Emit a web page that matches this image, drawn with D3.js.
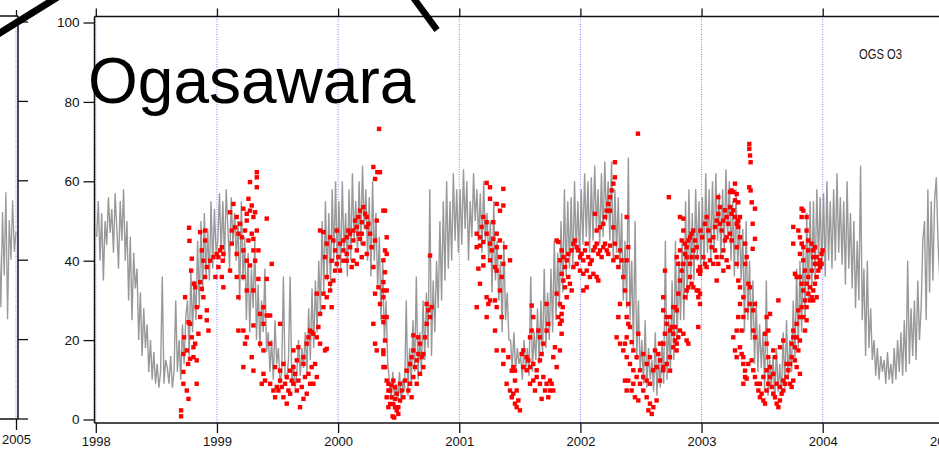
<!DOCTYPE html>
<html><head><meta charset="utf-8">
<script src="https://cdn.jsdelivr.net/npm/d3@7"></script>
<style>
html,body{margin:0;padding:0;background:#fff;overflow:hidden}
svg{display:block}
</style></head><body>
<svg id="chart" width="939" height="450"></svg>
<script>
// ---- data -------------------------------------------------------------
const years = [1998, 1999, 2000, 2001, 2002, 2003, 2004, 2005];
const o3Ticks = [0, 20, 40, 60, 80, 100];
const stepsPerYear = 72; // model output: one value every ~5 days

// Modelled surface O3 (ppbv), Ogasawara
const model1998 = [46,55,40,52,35,50, 44,56,47,53,42,57, 48,38,55,45,58,40, 50,30,46,25,42,33,
  38,20,32,16,28,18, 24,12,20,10,17,9, 14,8,12,36,9,15, 13,9,16,8,12,30,
  12,20,10,24,14,26, 30,16,38,22,35,25, 45,28,50,32,52,36, 48,35,55,38,53,42];
const model1999 = [45,57,42,55,40,58, 48,38,56,44,52,40, 50,30,55,35,46,25, 42,22,38,28,45,20,
  34,18,30,22,38,17, 22,12,20,10,25,14, 18,9,12,36,11,10, 15,36,9,14,8,12,
  20,11,18,13,22,12, 28,15,33,18,35,22, 40,27,50,32,55,35, 52,33,58,40,60,38];
const model2000 = [55,38,60,42,52,36, 58,40,62,45,55,42, 60,44,64,48,58,40, 56,36,60,40,52,33,
  46,25,40,20,30,14, 10,5,12,6,9,5, 12,4,10,7,30,6, 18,9,25,12,36,10,
  22,12,30,15,32,18, 58,16,35,22,40,28, 50,30,55,35,60,38, 55,40,62,45,58,42];
const model2001 = [58,44,63,48,60,40, 55,46,62,50,58,45, 57,42,60,45,52,40, 50,32,55,35,45,30,
  40,22,45,25,32,20, 20,13,22,12,18,14, 16,10,20,12,18,11, 36,12,22,15,28,14,
  30,16,38,18,32,20, 38,22,45,25,42,28, 50,32,58,36,55,38, 56,38,60,42,55,40];
const model2002 = [58,44,62,46,60,42, 61,45,64,48,58,44, 62,46,65,50,60,45, 65,40,58,42,56,38,
  52,30,45,28,66,25, 40,18,50,15,30,12, 20,9,25,8,18,10, 15,7,22,6,16,8,
  20,9,45,10,25,12, 35,15,45,20,40,25, 45,25,55,30,58,35, 52,35,58,40,55,38];
const model2003 = [56,38,62,42,58,40, 60,42,62,45,57,41, 58,43,63,46,60,40, 55,36,58,38,50,35,
  48,22,50,25,40,20, 35,14,30,12,24,13, 22,7,35,6,15,8, 16,5,18,7,14,6,
  22,8,25,10,20,12, 30,15,38,18,40,22, 45,25,52,30,55,33, 55,35,58,40,56,38];
const model2004 = [57,36,60,40,55,38, 58,40,62,42,56,39, 55,34,60,38,52,33, 50,28,45,30,64,25,
  38,16,40,18,28,15, 20,11,18,10,16,12, 15,9,17,10,14,9, 18,10,20,12,22,11,
  25,12,40,14,28,16, 30,15,35,20,28,45, 50,25,58,32,55,35, 55,61,45,36,50,40];
const modelByYear = [[1998, model1998], [1999, model1999], [2000, model2000], [2001, model2001],
  [2002, model2002], [2003, model2003], [2004, model2004]];

// neighbouring panel (end of its record)
const prevSiteStart = 2004.861;
const prevSiteO3 = [45,28,52,36,57,25,50,40,55,42,47];

// Observed O3 (ppbv): [decimal year, value]
const obs1998 = [[1998.704,2.3],[1998.704,0.8],[1998.723,16.5],[1998.729,20.7],[1998.737,30.8],[1998.723,12.0],[1998.723,9.0],[1998.751,7.3],[1998.765,5.2],[1998.751,17.4],[1998.762,14.0],[1998.770,48.3],[1998.773,45.0],[1998.787,37.5],[1998.792,40.5],[1998.778,24.1],[1998.765,24.5],[1998.792,20.7],[1998.806,18.2],[1998.806,15.7],[1998.778,15.3],[1998.811,34.2],[1998.820,33.3],[1998.833,28.3],[1998.847,21.6],[1998.833,14.9],[1998.833,9.0],[1998.820,19.1],[1998.861,47.2],[1998.861,34.6],[1998.861,25.8],[1998.875,42.6],[1998.875,32.9],[1998.888,40.0],[1998.902,47.6],[1998.902,45.1],[1998.902,35.9],[1998.888,30.8],[1998.916,38.4],[1998.916,27.5],[1998.916,25.0],[1998.930,22.4],[1998.943,40.0],[1998.971,40.9],[1998.987,35.9],[1998.998,41.7]];
const obs1999 = [[1999.012,40.9],[1999.012,38.4],[1999.026,42.6],[1999.040,43.4],[1999.048,40.0],[1999.040,35.9],[1999.053,33.3],[1999.053,41.7],[1999.108,52.2],[1999.136,54.3],[1999.163,51.0],[1999.191,49.3],[1999.218,53.1],[1999.246,51.8],[1999.246,50.1],[1999.273,52.6],[1999.122,47.6],[1999.150,48.4],[1999.177,46.8],[1999.205,45.9],[1999.232,47.6],[1999.260,45.1],[1999.287,46.8],[1999.301,45.5],[1999.122,44.3],[1999.163,41.7],[1999.218,42.6],[1999.246,40.0],[1999.273,38.8],[1999.301,42.6],[1999.315,40.0],[1999.273,59.8],[1999.329,62.3],[1999.329,61.0],[1999.329,58.5],[1999.260,55.6],[1999.287,53.9],[1999.315,52.2],[1999.301,51.0],[1999.329,47.6],[1999.342,42.6],[1999.411,50.6],[1999.452,39.2],[1999.411,35.4],[1999.342,35.4],[1999.108,37.5],[1999.163,35.9],[1999.218,35.9],[1999.246,32.5],[1999.177,30.8],[1999.301,32.5],[1999.384,28.3],[1999.356,26.6],[1999.439,26.2],[1999.411,26.2],[1999.384,24.1],[1999.177,22.4],[1999.218,22.4],[1999.301,23.7],[1999.246,20.7],[1999.232,19.1],[1999.287,15.7],[1999.218,13.2],[1999.301,12.3],[1999.356,19.1],[1999.384,17.4],[1999.439,19.1],
  [1999.439,9.0],[1999.466,7.3],[1999.480,5.6],[1999.494,8.2],[1999.521,9.8],[1999.549,5.6],[1999.576,4.0],[1999.604,6.5],[1999.631,9.0],[1999.659,7.3],[1999.686,3.1],[1999.714,5.2],[1999.741,6.5],[1999.769,9.0],[1999.796,9.0],[1999.824,10.7],[1999.576,10.7],[1999.604,12.3],[1999.631,13.2],[1999.521,12.3],[1999.480,13.2],[1999.384,11.5],[1999.397,9.8],[1999.370,9.0],[1999.507,7.3],[1999.535,8.2],[1999.562,9.0],[1999.590,7.3],[1999.617,9.8],[1999.645,11.5],[1999.672,9.8],[1999.700,8.2],[1999.727,10.7],[1999.755,11.5],[1999.782,13.2],[1999.810,14.0],[1999.549,14.0],[1999.659,14.9],[1999.714,14.0],[1999.521,24.1],[1999.631,17.4],[1999.672,18.2],[1999.714,15.7],[1999.741,19.1],[1999.755,20.7],[1999.769,22.4],[1999.782,22.0],[1999.824,20.7],[1999.851,19.1],[1999.892,17.4],[1999.906,17.8],
  [1999.796,21.6],[1999.837,23.3],[1999.879,28.3],[1999.879,31.7],[1999.824,31.7],[1999.851,26.6],[1999.906,30.8],[1999.906,35.9],[1999.934,34.2],[1999.934,32.5],[1999.947,28.3],[1999.961,35.0],[1999.975,37.5],[1999.989,39.2],[1999.851,47.6],[1999.879,47.2],[1999.934,45.9],[1999.961,45.1],[1999.989,47.6],[1999.975,42.6],[1999.906,44.3],[1999.892,40.9],[1999.947,40.0]];
const obs2000 = [[2000.016,44.3],[2000.002,40.9],[2000.044,42.6],[2000.071,41.7],[2000.099,43.4],[2000.044,40.0],[2000.016,37.5],[2000.126,40.0],[2000.154,42.6],[2000.209,53.5],[2000.181,52.6],[2000.223,51.8],[2000.236,51.0],[2000.195,49.7],[2000.236,48.5],[2000.250,49.3],[2000.154,48.5],[2000.168,46.8],[2000.181,45.5],[2000.126,45.1],[2000.099,46.8],[2000.071,45.9],[2000.291,63.6],[2000.305,60.6],[2000.324,62.3],[2000.374,52.6],[2000.319,50.1],[2000.305,45.1],[2000.291,38.4],[2000.305,31.7],[2000.333,33.3],[2000.346,29.1],[2000.291,24.1],[2000.305,19.1],[2000.319,17.4],[2000.374,25.8],[2000.374,32.5],[2000.374,16.5],[2000.388,13.2],[2000.401,25.8],[2000.415,7.3],[2000.415,9.0],[2000.044,45.1],[2000.085,47.6],[2000.126,47.6],[2000.140,50.1],[2000.168,51.0],[2000.195,46.8],[2000.209,44.3],[2000.264,46.8],[2000.277,43.4],[2000.071,40.0],[2000.112,38.4],[2000.154,39.2],[2000.195,40.9],[2000.236,41.7],[2000.338,73.2],
  [2000.346,62.3],[2000.387,52.6],[2000.401,45.9],[2000.387,42.6],[2000.374,40.1],[2000.401,41.7],[2000.387,37.1],[2000.374,34.6],[2000.401,32.5],[2000.374,30.8],[2000.374,24.5],[2000.387,19.9],[2000.374,17.4],[2000.374,13.2],[2000.401,9.8],
  [2000.429,7.3],[2000.442,5.6],[2000.456,3.9],[2000.470,8.1],[2000.484,6.5],[2000.497,3.1],[2000.511,4.8],[2000.525,7.3],[2000.456,9.8],[2000.429,3.9],[2000.484,2.3],[2000.401,5.6],[2000.470,5.2],[2000.442,8.6],[2000.511,9.0],[2000.539,5.6],[2000.497,1.4],[2000.470,3.1],[2000.415,3.1],[2000.450,0.8],[2000.463,0.5],
  [2000.594,14.0],[2000.607,15.7],[2000.621,17.4],[2000.635,13.2],[2000.649,14.9],[2000.662,16.5],[2000.676,11.5],[2000.690,15.7],[2000.704,13.2],[2000.621,10.7],[2000.649,9.0],[2000.594,9.0],[2000.580,7.3],[2000.607,5.6],[2000.621,21.2],[2000.676,19.1],[2000.704,16.5],[2000.731,24.1],[2000.745,27.5],[2000.759,25.8],[2000.759,41.3],[2000.731,29.1],[2000.772,28.3],[2000.566,12.3],[2000.552,9.8],[2000.717,20.7],[2000.662,20.7]];
const obs2001 = [[2001.226,59.6],[2001.254,58.5],[2001.364,58.1],[2001.254,55.6],[2001.309,54.3],[2001.336,52.6],[2001.364,53.9],[2001.199,51.0],[2001.226,49.7],[2001.281,49.7],[2001.144,46.8],[2001.171,45.9],[2001.199,44.7],[2001.226,46.8],[2001.254,44.3],[2001.281,45.5],[2001.309,46.8],[2001.336,45.1],[2001.309,43.4],[2001.268,42.6],[2001.171,43.8],[2001.199,40.9],[2001.254,40.1],[2001.295,38.4],[2001.309,37.5],[2001.336,40.9],[2001.364,39.2],[2001.350,35.9],[2001.378,43.4],[2001.199,38.8],[2001.158,38.0],[2001.171,34.2],[2001.226,30.8],[2001.254,30.0],[2001.295,30.0],[2001.309,28.3],[2001.240,29.1],[2001.144,28.3],[2001.226,25.8],[2001.295,22.4],[2001.309,17.4],[2001.336,32.5],[2001.350,25.8],[2001.419,40.1],[2001.144,43.4],[2001.185,48.5],
  [2001.364,17.4],[2001.364,14.0],[2001.391,9.0],[2001.419,7.3],[2001.433,5.6],[2001.446,6.5],[2001.460,4.0],[2001.474,3.1],[2001.488,4.8],[2001.501,2.3],[2001.474,7.3],[2001.433,12.3],[2001.446,13.2],[2001.460,9.8],[2001.460,12.3],[2001.405,15.7],
  [2001.529,17.4],[2001.556,15.7],[2001.584,13.2],[2001.611,14.0],[2001.639,12.4],[2001.666,14.9],[2001.694,10.7],[2001.721,9.0],[2001.749,9.8],[2001.776,7.3],[2001.735,5.6],[2001.708,7.3],[2001.666,9.0],[2001.639,10.7],[2001.611,9.8],[2001.584,9.0],[2001.570,14.9],[2001.556,12.4],[2001.529,13.2],[2001.515,16.5],[2001.598,22.4],[2001.584,20.7],[2001.611,25.8],[2001.653,22.4],[2001.666,20.7],[2001.694,19.1],[2001.721,22.4],[2001.735,24.1],[2001.721,29.1],[2001.680,16.5],[2001.776,15.7],[2001.790,18.2],[2001.804,13.2],[2001.831,17.4],[2001.845,21.6],[2001.845,24.9],[2001.854,28.3],[2001.625,7.3],[2001.680,5.2],[2001.749,7.3],[2001.763,9.0],[2001.598,28.7],[2001.831,24.1],[2001.818,25.8],[2001.845,26.6],[2001.831,29.1],[2001.804,31.7],
  [2001.818,44.7],[2001.845,42.6],[2001.831,40.1],[2001.859,40.9],[2001.873,38.4],[2001.887,40.1],[2001.900,41.7],[2001.928,42.6],[2001.942,44.3],[2001.955,45.1],[2001.969,43.4],[2001.983,42.6],[2001.997,40.9],[2001.859,35.0],[2001.873,33.3],[2001.900,35.9],[2001.914,34.2],[2001.928,32.5],[2001.887,30.8],[2001.845,36.7],[2001.942,38.4],[2001.969,39.2],[2001.997,37.5],[2001.804,45.1]];
const obs2002 = [[2002.010,41.7],[2002.024,40.1],[2002.038,42.6],[2002.052,44.3],[2002.065,40.9],[2002.079,39.2],[2002.093,40.1],[2002.107,42.6],[2002.120,43.4],[2002.134,44.3],[2002.148,41.7],[2002.162,42.6],[2002.175,40.9],[2002.189,43.4],[2002.203,44.3],[2002.217,42.6],[2002.230,41.7],[2002.244,43.8],[2002.272,40.1],[2002.024,36.7],[2002.052,37.5],[2002.079,35.9],[2002.107,36.7],[2002.134,35.9],[2002.148,35.0],[2002.052,33.3],[2002.024,32.5],[2002.120,51.8],[2002.134,47.6],[2002.162,48.4],[2002.189,49.3],[2002.203,51.0],[2002.217,52.6],[2002.230,54.3],[2002.244,56.0],[2002.258,57.7],[2002.272,59.4],[2002.285,61.0],[2002.285,64.8],
  [2002.244,52.6],[2002.272,48.4],[2002.285,44.3],[2002.299,40.9],[2002.313,38.4],[2002.327,42.6],[2002.340,40.1],[2002.354,35.9],[2002.382,51.0],[2002.395,43.4],[2002.382,40.1],[2002.368,32.5],[2002.395,29.1],[2002.382,25.8],[2002.395,24.1],[2002.409,23.3],[2002.327,29.1],[2002.313,25.8],[2002.299,20.7],[2002.368,19.1],[2002.382,20.7],[2002.423,19.5],[2002.475,72.0],[2002.327,19.1],
  [2002.354,17.4],[2002.382,15.7],[2002.409,14.0],[2002.437,12.4],[2002.464,10.7],[2002.492,9.0],[2002.519,7.3],[2002.547,5.6],[2002.574,4.0],[2002.602,3.1],[2002.629,4.8],[2002.519,10.7],[2002.547,9.8],[2002.574,9.0],[2002.492,12.4],[2002.464,15.7],[2002.437,17.4],[2002.478,21.6],[2002.519,16.5],[2002.547,14.0],[2002.574,15.7],[2002.602,12.4],[2002.629,13.2],[2002.657,9.8],[2002.684,12.4],[2002.712,14.0],[2002.739,15.7],[2002.767,18.2],[2002.794,17.4],[2002.808,20.7],[2002.781,23.3],[2002.767,28.3],[2002.739,25.8],[2002.712,24.1],[2002.684,27.5],[2002.684,30.8],[2002.698,37.5],[2002.657,19.1],[2002.643,16.5],[2002.616,17.4],[2002.395,9.8],[2002.423,7.3],[2002.450,5.6],[2002.478,4.8],[2002.437,9.0],[2002.368,9.8],[2002.382,7.3],[2002.589,1.4],[2002.561,2.3],[2002.730,56.0],
  [2002.657,14.9],[2002.685,13.2],[2002.740,12.3],[2002.685,19.1],[2002.698,21.6],[2002.712,25.8],[2002.740,22.4],[2002.767,21.6],[2002.781,19.9],[2002.795,19.1],[2002.822,22.4],[2002.850,21.6],[2002.877,19.9],[2002.891,19.1],[2002.781,28.3],[2002.795,27.5],[2002.808,31.7],[2002.822,35.0],[2002.836,37.5],[2002.850,39.2],[2002.863,41.7],[2002.877,40.9],[2002.795,40.9],[2002.808,39.2],[2002.822,42.6],[2002.850,47.6],[2002.863,44.3],[2002.836,45.1],[2002.877,43.4],[2002.891,45.1],[2002.905,45.9],[2002.918,46.8],[2002.932,47.6],[2002.946,45.1],[2002.960,43.4],[2002.932,42.6],[2002.918,40.9],[2002.905,39.2],[2002.960,40.9],[2002.973,37.5],[2002.987,38.4],[2002.905,35.9],[2002.918,34.2],[2002.932,33.3],[2002.960,32.5],[2002.973,30.8],[2002.891,33.3],[2002.877,32.5],[2002.863,30.8],[2002.753,23.3],[2002.850,50.6],[2002.822,51.0],[2002.991,47.6],[2002.973,32.5],[2002.987,31.7],[2002.987,29.1],[2002.973,23.3],[2002.987,36.7],[2002.991,37.5]];
const obs2003 = [[2003.005,45.9],[2003.028,49.3],[2003.042,51.0],[2003.056,47.6],[2003.070,45.1],[2003.083,43.4],[2003.097,45.9],[2003.111,48.5],[2003.125,50.1],[2003.138,51.8],[2003.152,49.3],[2003.166,47.6],[2003.180,50.1],[2003.193,52.7],[2003.207,51.0],[2003.221,49.3],[2003.235,53.5],[2003.248,51.8],[2003.262,52.7],[2003.276,51.0],[2003.290,49.3],[2003.303,50.1],[2003.111,42.6],[2003.125,40.9],[2003.097,39.2],[2003.138,39.2],[2003.166,40.9],[2003.180,42.6],[2003.193,45.1],[2003.207,45.9],[2003.235,46.8],[2003.248,45.1],[2003.015,40.9],[2003.042,38.4],[2003.028,39.2],[2003.070,40.1],[2003.138,56.0],[2003.152,53.5],[2003.235,57.3],[2003.248,57.7],[2003.276,59.4],[2003.290,56.8],[2003.276,55.2],[2003.303,54.7],[2003.262,57.3],[2003.125,35.0],[2003.207,40.1],[2003.221,38.4],[2003.180,37.5],
  [2003.317,51.0],[2003.303,48.5],[2003.317,45.9],[2003.290,43.4],[2003.290,39.2],[2003.303,35.0],[2003.317,33.3],[2003.317,29.1],[2003.303,25.8],[2003.290,22.4],[2003.262,20.7],[2003.276,17.4],[2003.290,15.7],[2003.317,18.2],[2003.331,16.5],[2003.345,15.7],[2003.359,12.3],[2003.345,14.0],[2003.331,22.4],[2003.345,25.8],[2003.345,30.8],[2003.359,39.2],[2003.372,40.9],[2003.359,44.3],[2003.386,34.2],[2003.400,33.3],[2003.400,29.1],[2003.372,27.5],[2003.427,27.5],[2003.441,29.1],[2003.427,22.4],[2003.441,20.7],
  [2003.394,69.4],[2003.394,68.2],[2003.400,66.5],[2003.405,64.8],[2003.394,58.5],[2003.405,57.7],[2003.414,54.7],[2003.441,53.1],[2003.422,49.3],[2003.441,45.5],[2003.422,43.0],
  [2003.359,10.7],[2003.372,10.3],[2003.345,9.0],[2003.386,14.0],[2003.414,14.9],[2003.427,12.4],[2003.441,10.7],[2003.455,9.0],[2003.469,7.3],[2003.482,5.6],[2003.496,6.5],[2003.510,4.8],[2003.524,4.0],[2003.537,7.3],[2003.551,9.0],[2003.565,10.7],[2003.579,8.2],[2003.592,6.5],[2003.606,5.6],[2003.620,4.0],[2003.634,3.1],[2003.647,4.8],[2003.661,6.5],[2003.675,7.3],[2003.689,9.0],[2003.702,10.7],[2003.716,12.4],[2003.730,14.0],[2003.744,15.7],[2003.482,9.0],[2003.510,10.7],[2003.537,12.4],[2003.565,13.2],[2003.592,11.5],[2003.620,9.0],[2003.647,8.2],[2003.675,9.8],[2003.730,9.0],[2003.744,8.2],[2003.757,9.8],[2003.537,25.8],[2003.551,22.4],[2003.537,19.1],[2003.565,26.6],[2003.524,21.6],[2003.551,15.7],[2003.606,15.7],[2003.634,30.0],[2003.675,19.9],[2003.647,18.2],[2003.592,17.4],[2003.702,14.0],[2003.744,19.1],[2003.757,20.7],[2003.771,18.2],
  [2003.757,22.4],[2003.785,20.7],[2003.812,19.9],[2003.799,17.4],[2003.771,14.9],[2003.785,13.2],[2003.812,11.5],[2003.785,24.1],[2003.757,48.5],[2003.757,44.3],[2003.771,36.7],[2003.785,35.9],[2003.799,47.6],[2003.812,45.9],[2003.826,44.3],[2003.812,41.7],[2003.840,43.4],[2003.840,40.1],[2003.854,37.5],[2003.867,47.6],[2003.881,45.1],[2003.867,51.0],[2003.826,51.0],[2003.826,53.1],[2003.840,52.6],[2003.812,35.9],[2003.826,34.2],[2003.840,32.5],[2003.867,34.2],[2003.854,30.0],[2003.826,28.3],[2003.812,25.8],[2003.799,27.5],[2003.840,25.8],[2003.867,25.0],[2003.854,22.4],[2003.867,28.3],[2003.881,31.7],[2003.895,33.3],[2003.909,37.5],[2003.922,40.9],[2003.922,42.6],[2003.936,43.4],[2003.950,40.9],[2003.964,39.2],[2003.977,40.1],[2003.991,41.7],[2003.999,42.6],[2003.964,37.5],[2003.950,35.9],[2003.936,34.2],[2003.922,32.5],[2003.909,30.8],[2003.895,30.0],[2003.922,30.0],[2003.950,30.8],[2003.936,39.2],[2003.977,38.4],[2003.991,39.2],[2003.881,35.9],[2003.909,44.3],[2003.881,42.6]];

const siteTitle = "Ogasawara";
const panelTag = "OGS O3";

// ---- drawing ----------------------------------------------------------
const svg = d3.select("#chart");
const FONT = "'Liberation Sans', Arial, Helvetica, sans-serif";
const frame = {left: 94.5, top: 16.5, bottom: 423, right: 939};

const x = d3.scaleLinear().domain([1998, 2005]).range([95.8, 95.8 + 7 * 121.15]);
const y = d3.scaleLinear().domain([0, 100]).range([419.5, 22.5]);

// neighbouring panel, only its right edge is in view
const xPrev = d3.scaleLinear().domain([2004, 2005]).range([16 - 121.15, 16]);
const yPrev = d3.scaleLinear().domain([0, 100]).range([418.5, 21.5]);

svg.append("rect").attr("width", 939).attr("height", 450).attr("fill", "#fff");

const defs = svg.append("defs");
defs.append("clipPath").attr("id", "clipPrev")
  .append("rect").attr("x", 0).attr("y", 16).attr("width", 17.5).attr("height", 403);
defs.append("clipPath").attr("id", "clipMain")
  .append("rect").attr("x", frame.left + 0.5).attr("y", frame.top)
  .attr("width", frame.right - frame.left).attr("height", frame.bottom - frame.top);

// year gridlines (dotted blue)
const grid = svg.append("g").attr("stroke", "#7f7fff").attr("stroke-width", 1)
  .attr("stroke-dasharray", "1,1.5");
grid.selectAll("line.main").data(years.filter(d => d < 2005)).join("line")
  .attr("class", "main")
  .attr("x1", d => x(d)).attr("x2", d => x(d))
  .attr("y1", frame.top).attr("y2", frame.bottom);
grid.append("line").attr("x1", xPrev(2005)).attr("x2", xPrev(2005))
  .attr("y1", 16).attr("y2", 419);

// neighbouring panel series
const prevSeries = prevSiteO3.map((v, i) => [prevSiteStart + i / stepsPerYear, v]);
svg.append("path").datum(prevSeries)
  .attr("clip-path", "url(#clipPrev)")
  .attr("fill", "none").attr("stroke", "#9a9a9a").attr("stroke-width", 1.3)
  .attr("d", d3.line().x(d => xPrev(d[0])).y(d => yPrev(d[1])));

// model line
const modelSeries = modelByYear.flatMap(([yr, vals]) =>
  vals.map((v, i) => [yr + (i + 0.5) / stepsPerYear, v]));
svg.append("path").datum(modelSeries)
  .attr("clip-path", "url(#clipMain)")
  .attr("fill", "none").attr("stroke", "#999").attr("stroke-width", 1.4)
  .attr("stroke-linejoin", "miter")
  .attr("d", d3.line().x(d => x(d[0])).y(d => y(d[1])));

// observations
const obs = [].concat(obs1998, obs1999, obs2000, obs2001, obs2002, obs2003);
const sq = 4.4;
svg.append("g").attr("fill", "#ff0000")
  .selectAll("rect").data(obs).join("rect")
  .attr("x", d => x(d[0]) - sq / 2).attr("y", d => y(d[1]) - sq / 2)
  .attr("width", sq).attr("height", sq);

// frame of the main panel
const fr = svg.append("g").attr("stroke", "#111").attr("stroke-width", 1.5).attr("fill", "none");
fr.append("line").attr("x1", frame.left).attr("x2", frame.left).attr("y1", frame.top).attr("y2", frame.bottom);
fr.append("line").attr("x1", frame.left).attr("x2", frame.right).attr("y1", frame.top).attr("y2", frame.top);
fr.append("line").attr("x1", frame.left).attr("x2", frame.right).attr("y1", frame.bottom).attr("y2", frame.bottom);

// frame of the neighbouring panel
fr.append("line").attr("x1", 18).attr("x2", 18).attr("y1", 16).attr("y2", 419);
fr.append("line").attr("x1", 0).attr("x2", 18).attr("y1", 16).attr("y2", 16);
fr.append("line").attr("x1", 0).attr("x2", 18).attr("y1", 419).attr("y2", 419);

function styleAxis(g, size) {
  g.select(".domain").remove();
  g.selectAll(".tick line").attr("stroke", "#111").attr("stroke-width", 1.3);
  g.selectAll(".tick text").attr("fill", "#111")
    .attr("font-family", FONT).attr("font-size", size || 13.5);
}

// axes of the main panel
svg.append("g").attr("transform", `translate(${frame.left},0)`)
  .call(d3.axisLeft(y).tickValues(o3Ticks).tickSize(11).tickPadding(4))
  .call(styleAxis);
svg.append("g").attr("transform", `translate(0,${frame.bottom})`)
  .call(d3.axisBottom(x).tickValues(years).tickFormat(d3.format("d")).tickSize(10).tickPadding(4))
  .call(g => styleAxis(g, 13));
svg.append("g").attr("transform", `translate(0,${frame.top})`)
  .call(d3.axisTop(x).tickValues(years).tickFormat("").tickSize(8))
  .call(styleAxis);

// axes of the neighbouring panel
svg.append("g").attr("transform", "translate(18,0)")
  .call(d3.axisRight(yPrev).tickValues(o3Ticks).tickFormat("").tickSize(10))
  .call(styleAxis);
svg.append("g").attr("transform", "translate(0,419)")
  .call(d3.axisBottom(xPrev).tickValues([2005]).tickFormat(d3.format("d")).tickSize(11).tickPadding(5))
  .call(g => styleAxis(g, 13));
svg.append("g").attr("transform", "translate(0,16)")
  .call(d3.axisTop(xPrev).tickValues([2005]).tickFormat("").tickSize(6))
  .call(styleAxis);

// panel tag and station name
svg.append("text").attr("x", 859).attr("y", 58.5)
  .attr("font-family", FONT).attr("font-size", 14)
  .attr("textLength", 43).attr("lengthAdjust", "spacingAndGlyphs")
  .attr("fill", "#222").text(panelTag);
svg.append("text").attr("x", 88).attr("y", 103)
  .attr("font-family", FONT).attr("font-size", 64)
  .attr("fill", "#000").text(siteTitle);

// callout strokes crossing the top of the slide
svg.append("line").attr("x1", -6).attr("y1", 36.7).attr("x2", 60).attr("y2", -4.4)
  .attr("stroke", "#000").attr("stroke-width", 7);
svg.append("line").attr("x1", 409.9).attr("y1", -7).attr("x2", 437).attr("y2", 30)
  .attr("stroke", "#000").attr("stroke-width", 6.5);
</script>
</body></html>
